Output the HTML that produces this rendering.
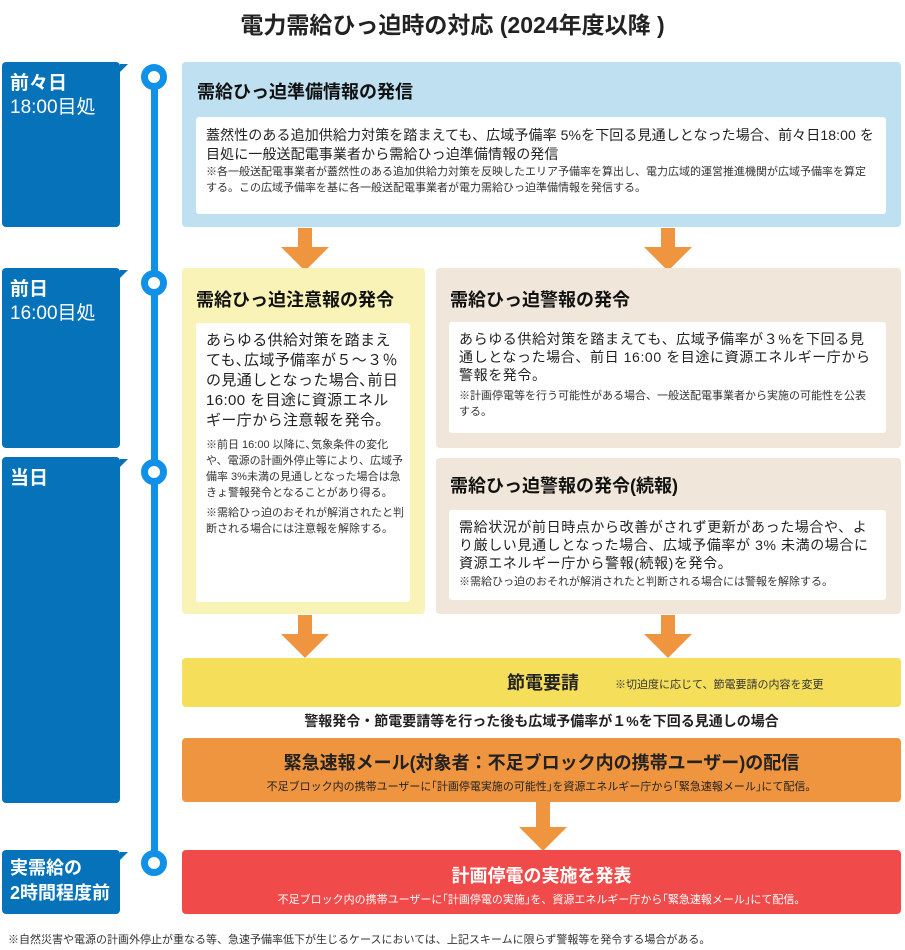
<!DOCTYPE html>
<html><head><meta charset="utf-8"><style>
*{margin:0;padding:0;box-sizing:border-box}
body{width:905px;height:950px;background:#fff;font-family:"Liberation Sans","Noto Sans CJK JP",sans-serif;position:relative;overflow:hidden;color:#222}
.a{position:absolute}
.lab{background:#0572BA;color:#fff;border-radius:4px;font-size:19px;line-height:24px;padding:10px 8px}
.lab:after{content:"";position:absolute;right:-8px;top:2px;border-left:8px solid #0572BA;border-top:0 solid transparent;border-bottom:8px solid transparent}
.dot{width:26px;height:26px;border-radius:50%;background:#fff;border:7px solid #1090E6}
.box{border-radius:4px}
.w{background:#fff;border-radius:3px;padding:8px 10px}
h3{font-size:18px;font-weight:bold;color:#111}
.t{font-size:14px;line-height:17px;color:#222;letter-spacing:0.3px}
.s{font-size:11px;line-height:16px;color:#333}
</style></head><body>
<div class="a" style="left:0;top:6px;width:905px;text-align:center;font-size:23px;font-weight:bold;">電力需給ひっ迫時の対応 (2024年度以降 )</div>

<div class="a" style="left:151px;top:75px;width:7px;height:790px;background:#1090E6"></div>
<div class="a dot" style="left:141px;top:64px"></div>
<div class="a dot" style="left:141px;top:270px"></div>
<div class="a dot" style="left:141px;top:459px"></div>
<div class="a dot" style="left:141px;top:850px"></div>

<div class="a lab" style="left:2px;top:62px;width:118px;height:165px"><b>前々日</b><br>18:00目処</div>
<div class="a lab" style="left:2px;top:268px;width:118px;height:180px"><b>前日</b><br>16:00目処</div>
<div class="a lab" style="left:2px;top:457px;width:118px;height:346px"><b>当日</b></div>
<div class="a lab" style="left:2px;top:850px;width:118px;height:64px;padding-top:6px;font-weight:bold;font-size:18px;line-height:25px">実需給の<br>2時間程度前</div>

<div class="a box" style="left:182px;top:62px;width:719px;height:165px;background:#BEE0F1"></div>
<h3 class="a" style="left:197px;top:78px">需給ひっ迫準備情報の発信</h3>
<div class="a w" style="left:196px;top:117px;width:690px;height:97px;padding-top:9px">
<div class="t" style="line-height:19px;letter-spacing:0.1px">蓋然性のある追加供給力対策を踏まえても、広域予備率 5%を下回る見通しとなった場合、前々日18:00 を目処に一般送配電事業者から需給ひっ迫準備情報の発信</div>
<div class="s">※各一般送配電事業者が蓋然性のある追加供給力対策を反映したエリア予備率を算出し、電力広域的運営推進機関が広域予備率を算定する。この広域予備率を基に各一般送配電事業者が電力需給ひっ迫準備情報を発信する。</div></div>

<svg class="a" style="left:0;top:0" width="905" height="950">
<g fill="#F0953F">
<rect x="298" y="228" width="14" height="20"/><polygon points="281,247 329,247 305,271"/>
<rect x="661" y="228" width="14" height="20"/><polygon points="644,247 692,247 668,271"/>
<rect x="298" y="615" width="14" height="20"/><polygon points="281,634 329,634 305,658"/>
<rect x="661" y="615" width="14" height="20"/><polygon points="644,634 692,634 668,658"/>
<rect x="536" y="802" width="14" height="26"/><polygon points="519,827 567,827 543,851"/>
</g></svg>

<div class="a box" style="left:182px;top:268px;width:243px;height:346px;background:#FAF3B8"></div>
<h3 class="a" style="left:196px;top:286px">需給ひっ迫注意報の発令</h3>
<div class="a w" style="left:196px;top:323px;width:214px;height:279px;padding:8px 6px 8px 10px">
<div class="t" style="font-size:15px;line-height:20px;letter-spacing:0.4px">あらゆる供給対策を踏まえても､広域予備率が５～３％の見通しとなった場合､前日16:00 を目途に資源エネルギー庁から注意報を発令｡</div>
<div class="s" style="margin-top:6px;line-height:16px">※前日 16:00 以降に､気象条件の変化や、電源の計画外停止等により、広域予備率 3%未満の見通しとなった場合は急きょ警報発令となることがあり得る。</div>
<div class="s" style="margin-top:4px;line-height:16px">※需給ひっ迫のおそれが解消されたと判断される場合には注意報を解除する。</div></div>

<div class="a box" style="left:436px;top:268px;width:465px;height:180px;background:#F1E6DA"></div>
<h3 class="a" style="left:450px;top:286px">需給ひっ迫警報の発令</h3>
<div class="a w" style="left:449px;top:322px;width:437px;height:111px">
<div class="t" style="line-height:18px;letter-spacing:0.6px">あらゆる供給対策を踏まえても、広域予備率が３%を下回る見通しとなった場合、前日 16:00 を目途に資源エネルギー庁から警報を発令。</div>
<div class="s" style="margin-top:4px">※計画停電等を行う可能性がある場合、一般送配電事業者から実施の可能性を公表する。</div></div>

<div class="a box" style="left:436px;top:458px;width:465px;height:156px;background:#F1E6DA"></div>
<h3 class="a" style="left:450px;top:472px">需給ひっ迫警報の発令(続報)</h3>
<div class="a w" style="left:449px;top:510px;width:437px;height:90px">
<div class="t" style="line-height:18px;letter-spacing:0.6px">需給状況が前日時点から改善がされず更新があった場合や、より厳しい見通しとなった場合、広域予備率が 3% 未満の場合に資源エネルギー庁から警報(続報)を発令。</div>
<div class="s" style="margin-top:2px">※需給ひっ迫のおそれが解消されたと判断される場合には警報を解除する。</div></div>

<div class="a box" style="left:182px;top:658px;width:719px;height:49px;background:#F5DF5A"></div>
<div class="a" style="left:507px;top:669px;font-size:18px;font-weight:bold">節電要請</div>
<div class="a s" style="left:615px;top:677px;font-size:11px">※切迫度に応じて、節電要請の内容を変更</div>

<div class="a" style="left:182px;top:711px;width:719px;text-align:center;font-size:14px;font-weight:bold">警報発令・節電要請等を行った後も広域予備率が１%を下回る見通しの場合</div>

<div class="a box" style="left:182px;top:738px;width:719px;height:64px;background:#F0953F;text-align:center">
<div style="font-size:18px;font-weight:bold;margin-top:11px">緊急速報メール(対象者：不足ブロック内の携帯ユーザー)の配信</div>
<div style="font-size:11px;margin-top:3px">不足ブロック内の携帯ユーザーに｢計画停電実施の可能性｣を資源エネルギー庁から｢緊急速報メール｣にて配信。</div></div>

<div class="a box" style="left:182px;top:850px;width:719px;height:64px;background:#F04A4A;text-align:center;color:#fff">
<div style="font-size:18px;font-weight:bold;margin-top:12px">計画停電の実施を発表</div>
<div style="font-size:11px;margin-top:3px">不足ブロック内の携帯ユーザーに｢計画停電の実施｣を、資源エネルギー庁から｢緊急速報メール｣にて配信。</div></div>

<div class="a" style="left:8px;top:931px;font-size:11px;color:#333">※自然災害や電源の計画外停止が重なる等、急速予備率低下が生じるケースにおいては、上記スキームに限らず警報等を発令する場合がある。</div>
</body></html>
